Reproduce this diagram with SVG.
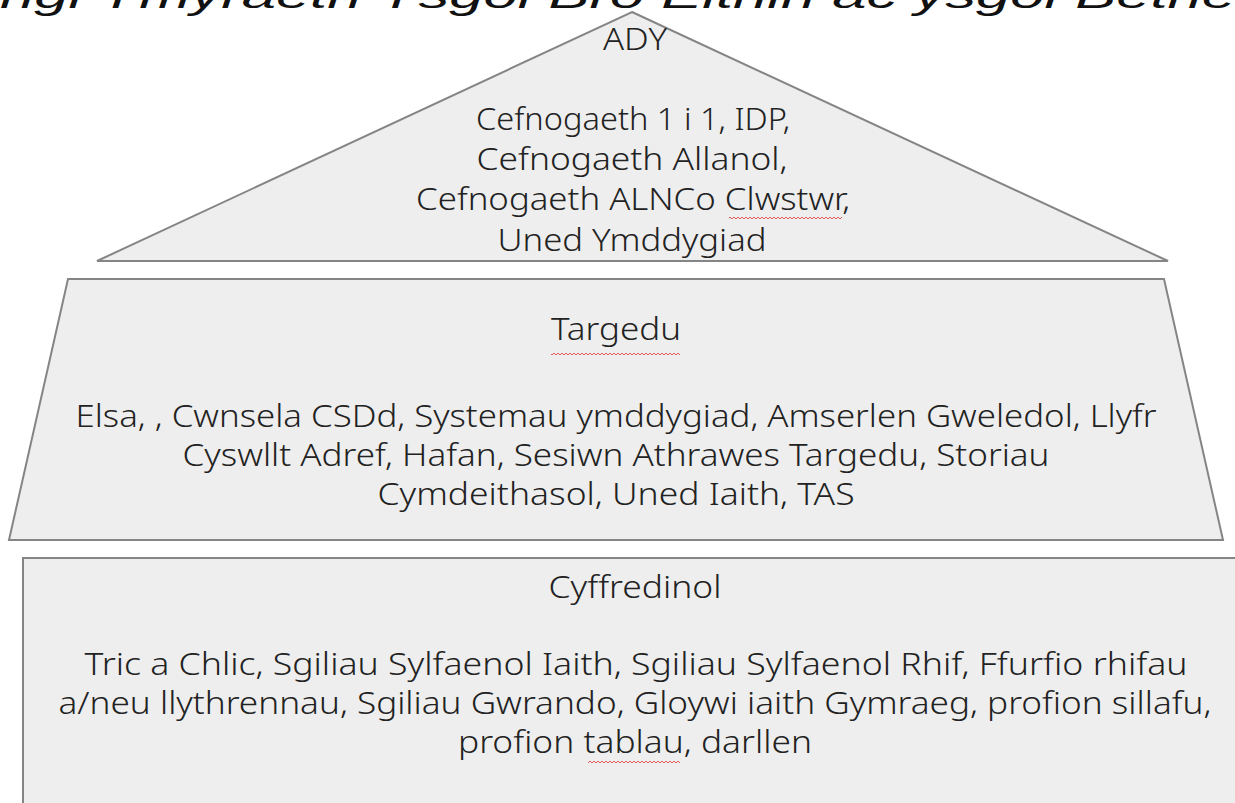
<svg xmlns="http://www.w3.org/2000/svg" width="1235" height="803" viewBox="0 0 1235 803">
<style>
.shape{fill:#eeeeee;stroke:#858585;stroke-width:2}
.t{font-family:"Noto Sans","Open Sans",sans-serif;font-size:32px;font-weight:300;fill:#222222;text-anchor:middle}
.title{font-family:"Liberation Sans","DejaVu Sans",sans-serif;font-style:italic;font-size:36px;fill:#111111}
</style>
<defs>
<pattern id="sq" width="4" height="4" patternUnits="userSpaceOnUse">
<path d="M0 3 L2 1 L4 3" fill="none" stroke="#e05a5a" stroke-width="1"/>
</pattern>
</defs>
<rect width="1235" height="803" fill="#ffffff"/>
<text class="title" x="0" y="8" textLength="1236" lengthAdjust="spacingAndGlyphs">ngi Ymyraeth Ysgol Bro Eithin ac ysgol Bethe</text>
<g id="node-ady">
<polygon class="shape" points="632,12 1168,261 97,261"/>
<text class="t" x="635" y="50" textLength="64" lengthAdjust="spacingAndGlyphs">ADY</text>
<text class="t" x="633" y="130" textLength="314" lengthAdjust="spacingAndGlyphs">Cefnogaeth 1 i 1, IDP,</text>
<text class="t" x="632" y="170" textLength="311" lengthAdjust="spacingAndGlyphs">Cefnogaeth Allanol,</text>
<text class="t" x="633" y="210" textLength="434" lengthAdjust="spacingAndGlyphs">Cefnogaeth ALNCo Clwstwr,</text>
<text class="t" x="632" y="251" textLength="269" lengthAdjust="spacingAndGlyphs">Uned Ymddygiad</text>
<rect x="729" y="217" width="113" height="4" fill="url(#sq)"/>
</g>
<g id="node-targedu">
<polygon class="shape" points="68,279 1164,279 1223,540 9,540"/>
<text class="t" x="616" y="340" textLength="130" lengthAdjust="spacingAndGlyphs">Targedu</text>
<rect x="551" y="353" width="129" height="4" fill="url(#sq)"/>
<text class="t" x="616" y="427" textLength="1081" lengthAdjust="spacingAndGlyphs">Elsa, , Cwnsela CSDd, Systemau ymddygiad, Amserlen Gweledol, Llyfr</text>
<text class="t" x="616" y="466" textLength="867" lengthAdjust="spacingAndGlyphs">Cyswllt Adref, Hafan, Sesiwn Athrawes Targedu, Storiau</text>
<text class="t" x="616" y="505" textLength="477" lengthAdjust="spacingAndGlyphs">Cymdeithasol, Uned Iaith, TAS</text>
</g>
<g id="node-cyffredinol">
<rect class="shape" x="23" y="558" width="1230" height="260"/>
<text class="t" x="635" y="598" textLength="173" lengthAdjust="spacingAndGlyphs">Cyffredinol</text>
<text class="t" x="636" y="675" textLength="1103" lengthAdjust="spacingAndGlyphs">Tric a Chlic, Sgiliau Sylfaenol Iaith, Sgiliau Sylfaenol Rhif, Ffurfio rhifau</text>
<text class="t" x="635" y="714" textLength="1153" lengthAdjust="spacingAndGlyphs">a/neu llythrennau, Sgiliau Gwrando, Gloywi iaith Gymraeg, profion sillafu,</text>
<text class="t" x="635" y="753" textLength="354" lengthAdjust="spacingAndGlyphs">profion tablau, darllen</text>
<rect x="588" y="759" width="92" height="4" fill="url(#sq)"/>
</g>
<g id="connectors"></g>
</svg>
